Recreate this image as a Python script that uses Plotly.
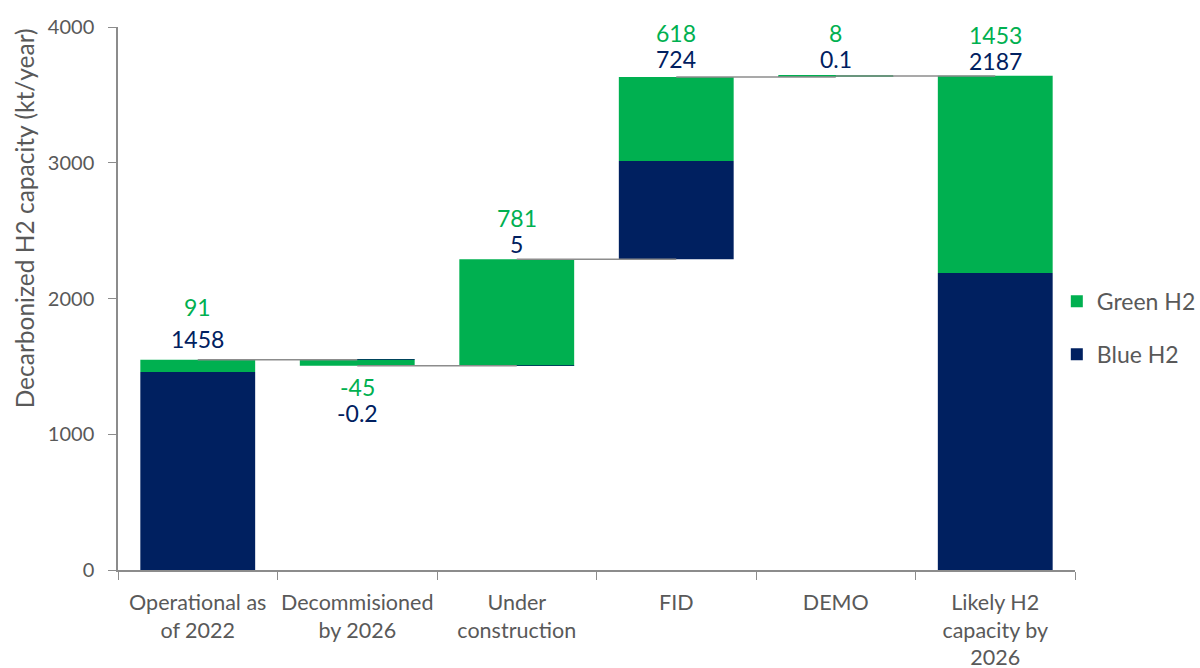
import plotly.graph_objects as go

categories = ["Operational as<br>of 2022", "Decommisioned<br>by 2026", "Under<br>construction",
              "FID", "DEMO", "Likely H2<br>capacity by<br>2026"]
blue_vals = [1458, -0.2, 5, 724, 0.1, 2187]
green_vals = [91, -45, 781, 618, 8, 1453]
blue_labels = ["1458", "-0.2", "5", "724", "0.1", "2187"]
green_labels = ["91", "-45", "781", "618", "8", "1453"]
kinds = ["absolute", "relative", "relative", "relative", "relative", "absolute"]
y_ticks = [0, 1000, 2000, 3000, 4000]
y_title = "Decarbonized H2 capacity (kt/year)"

GREEN = "#00B050"
BLUE = "#002060"
GREY_TXT = "#595959"
FONT = "Lato"

x = list(range(len(categories)))
blue_base, blue_h, green_base, green_h, tops, bottoms, ends = [], [], [], [], [], [], []
running = 0.0
for b, g, k in zip(blue_vals, green_vals, kinds):
    start = 0.0 if k == "absolute" else running
    b_end = start + b
    g_end = b_end + g
    blue_base.append(min(start, b_end)); blue_h.append(abs(b))
    green_base.append(min(b_end, g_end)); green_h.append(abs(g))
    tops.append(max(start, g_end)); bottoms.append(min(start, g_end))
    running = g_end
    ends.append(g_end)

fig = go.Figure()
# connectors
for i in range(len(categories) - 1):
    fig.add_shape(type="line", x0=x[i], x1=x[i + 1], y0=ends[i], y1=ends[i],
                  line=dict(color="#8C8C8C", width=1.5), layer="above")

fig.add_trace(go.Bar(x=x, y=blue_h, base=blue_base, name="Blue H2", marker_color=BLUE,
                     marker_line_width=0, width=0.72, legendgroup="b", legendrank=2))
fig.add_trace(go.Bar(x=x, y=green_h, base=green_base, name="Green H2", marker_color=GREEN,
                     marker_line_width=0, width=0.72, legendgroup="g", legendrank=1))

# labels (pixel offsets from bar top / bottom)
green_shift = [53, -21, 41, 44, 43, 41]
blue_shift = [21, -47, 15, 18, 17, 15]
for i in range(len(categories)):
    neg = green_vals[i] < 0
    ref = bottoms[i] if neg else tops[i]
    fig.add_annotation(x=x[i], y=ref, text=green_labels[i], showarrow=False, yshift=green_shift[i],
                       font=dict(family=FONT, size=23, color=GREEN))
    fig.add_annotation(x=x[i], y=ref, text=blue_labels[i], showarrow=False, yshift=blue_shift[i],
                       font=dict(family=FONT, size=23, color=BLUE))

# y-axis title (placed like the reference, above centre)
fig.add_annotation(xref="paper", yref="paper", x=-0.098, y=0.648, text=y_title, textangle=-90,
                   showarrow=False, xanchor="center", yanchor="middle",
                   font=dict(family=FONT, size=24.5, color=GREY_TXT))

fig.update_layout(
    width=1200, height=668,
    barmode="overlay",
    plot_bgcolor="white", paper_bgcolor="white",
    margin=dict(l=118, r=125, t=27, b=98, autoexpand=False),
    font=dict(family=FONT, size=20, color=GREY_TXT),
    showlegend=True,
    legend=dict(x=0.981, y=0.446, xanchor="left", yanchor="middle", traceorder="grouped",
                tracegroupgap=20, font=dict(size=23, color=GREY_TXT), bgcolor="rgba(0,0,0,0)"),
    xaxis=dict(range=[-0.5, 5.5], tickvals=x, ticktext=categories, ticks="", showgrid=False,
               showline=True, linecolor="#8C8C8C", linewidth=1.5, zeroline=False, automargin=False,
               tickangle=0,
               tickfont=dict(size=21.5, color=GREY_TXT), ticklabelstandoff=12,
               minor=dict(tickvals=[i - 0.5 for i in range(len(categories) + 1)], ticks="outside",
                          ticklen=8, tickcolor="#8C8C8C", tickwidth=1, showgrid=False)),
    yaxis=dict(range=[0, 4000], tickvals=y_ticks, ticks="outside", ticklen=8, tickcolor="#8C8C8C",
               showgrid=False, showline=True, linecolor="#8C8C8C", linewidth=1.5, zeroline=False,
               automargin=False, ticklabelstandoff=10,
               tickfont=dict(size=20, color=GREY_TXT)),
)

fig.write_html("out.html", config={"displayModeBar": False},
               post_script="document.body.style.margin='0';")
